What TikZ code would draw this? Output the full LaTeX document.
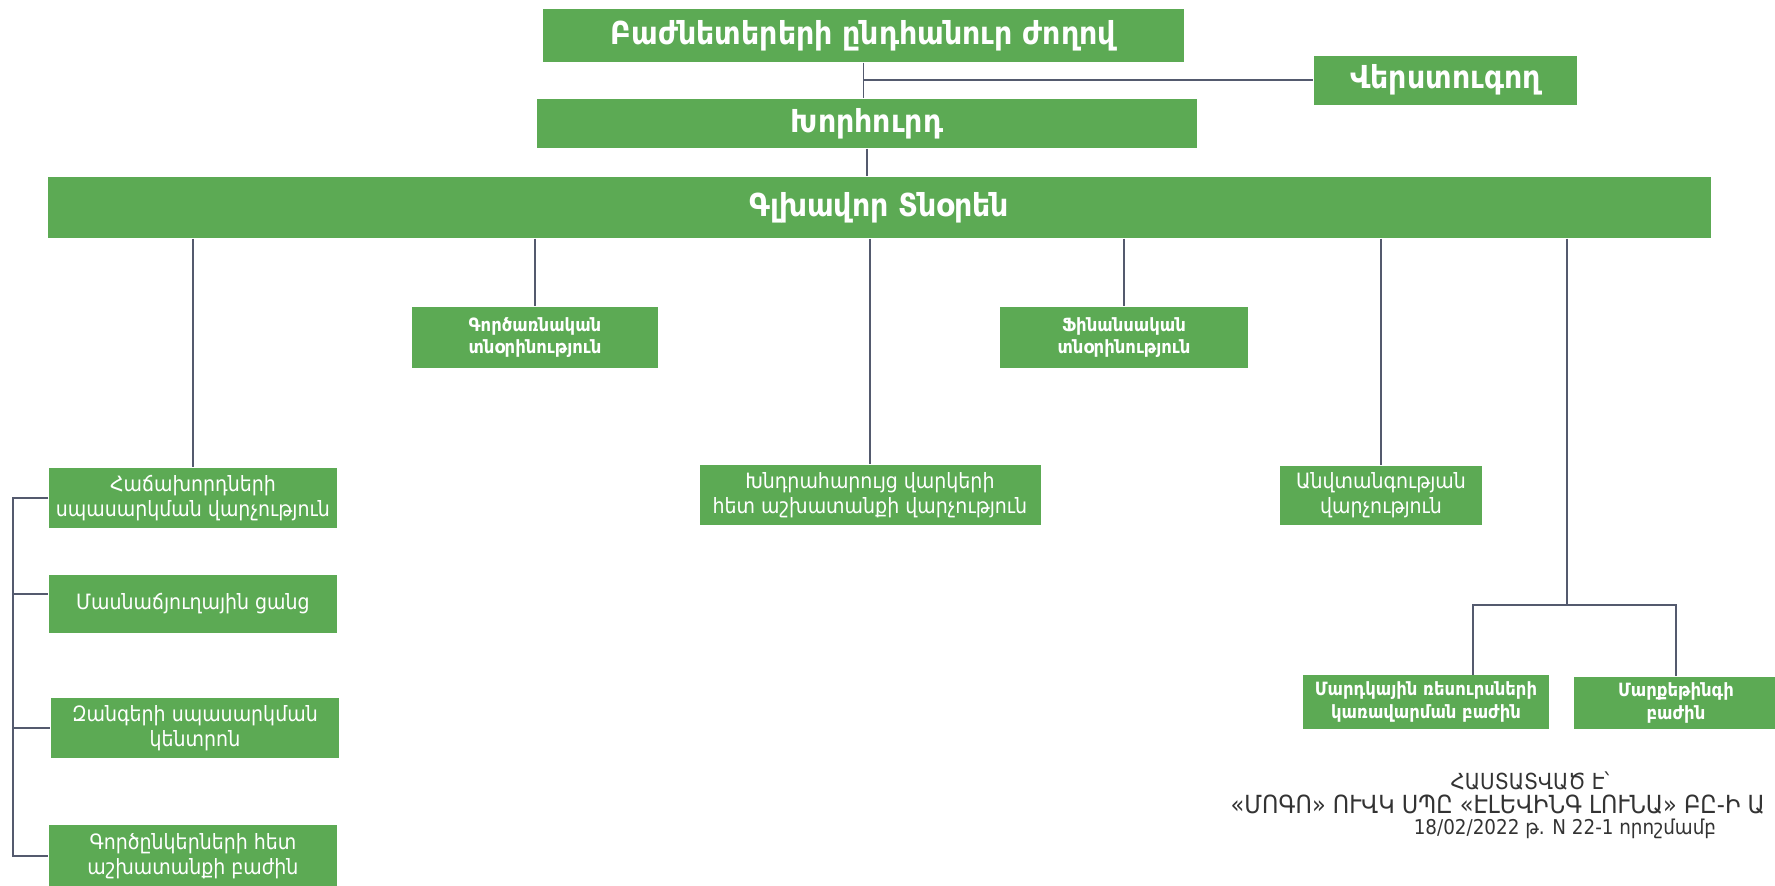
\documentclass[tikz,border=0pt]{standalone}
\usepackage{fontspec}
\setmainfont{DejaVu Sans Condensed}
\definecolor{boxgreen}{RGB}{92,170,84}
\definecolor{linkgray}{RGB}{84,90,110}
\tikzset{
unit/.style={fill=boxgreen,text=white,align=center,inner sep=0pt,font=\fontsize{6}{7.2}\selectfont},
bigunit/.style={unit,font=\fontsize{9}{11}\selectfont\bfseries},
smallunit/.style={unit,font=\fontsize{5.2}{6.4}\selectfont\bfseries},
link/.style={draw=linkgray,line width=.5pt},
note/.style={text=black!80,inner sep=0pt}
}
\begin{document}
\begin{tikzpicture}
\useasboundingbox (0,0) rectangle (17.75,-8.85);
\node[bigunit,minimum width=6.41cm,minimum height=.53cm](bod) at (8.635,-.355){Բաժնետերերի ընդհանուր ժողով};
\node[bigunit,minimum width=2.63cm,minimum height=.49cm](audit) at (14.455,-.8){Վերստուգող};
\node[bigunit,minimum width=6.6cm,minimum height=.49cm](board) at (8.67,-1.235){Խորհուրդ};
\node[bigunit,minimum width=16.63cm,minimum height=.61cm](ceo) at (8.795,-2.075){Գլխավոր Տնօրեն};
\node[smallunit,minimum width=2.46cm,minimum height=.61cm](ops) at (5.35,-3.375){Գործառնական\\տնօրինություն};
\node[smallunit,minimum width=2.48cm,minimum height=.61cm](fin) at (11.24,-3.375){Ֆինանսական\\տնօրինություն};
\node[unit,minimum width=2.88cm,minimum height=.6cm](cust) at (1.93,-4.98){Հաճախորդների\\սպասարկման վարչություն};
\node[unit,minimum width=2.88cm,minimum height=.58cm](branch) at (1.93,-6.04){Մասնաճյուղային ցանց};
\node[unit,minimum width=2.88cm,minimum height=.6cm](call) at (1.95,-7.28){Զանգերի սպասարկման\\կենտրոն};
\node[unit,minimum width=2.88cm,minimum height=.62cm](partner) at (1.93,-8.56){Գործընկերների հետ\\աշխատանքի բաժին};
\node[unit,minimum width=3.41cm,minimum height=.6cm](bad) at (8.7,-4.95){Խնդրահարույց վարկերի\\հետ աշխատանքի վարչություն};
\node[unit,minimum width=2.02cm,minimum height=.59cm](sec) at (13.81,-4.955){Անվտանգության\\վարչություն};
\node[smallunit,minimum width=2.46cm,minimum height=.54cm](hr) at (14.26,-7.02){Մարդկային ռեսուրսների\\կառավարման բաժին};
\node[smallunit,minimum width=2.04cm,minimum height=.52cm](mkt) at (16.76,-7.03){Մարքեթինգի\\բաժին};
\coordinate (rail) at (.13,0);
\coordinate (split) at (15.67,-6.05);
\coordinate (hrtop) at (14.73,-6.75);
\draw[link](bod.south) -- (bod.south |- board.north);
\draw[link](bod.south |- audit.west) -- (audit.west);
\draw[link](board.south) -- (board.south |- ceo.north);
\draw[link](ceo.south -| cust.north) -- (cust.north);
\draw[link](ceo.south -| ops.north) -- (ops.north);
\draw[link](ceo.south -| bad.north) -- (bad.north);
\draw[link](ceo.south -| fin.north) -- (fin.north);
\draw[link](ceo.south -| sec.north) -- (sec.north);
\draw[link](ceo.south -| split) -- (split);
\draw[link](hrtop) |- (split) -| (mkt.north);
\draw[link](cust.west) -- (cust.west -| rail) -- (partner.west -| rail) -- (partner.west);
\draw[link]([yshift=.1cm]branch.west -| rail) -- ([yshift=.1cm]branch.west);
\draw[link](call.west -| rail) -- (call.west);
\node[note,font=\fontsize{6.3}{7}\selectfont](ok) at (15.3,-7.81){ՀԱՍՏԱՏՎԱԾ Է՝};
\node[note,anchor=west,font=\fontsize{7.1}{8}\selectfont](firm) at (12.3,-8.05){«ՄՈԳՈ» ՈՒՎԿ ՍՊԸ «ԷԼԵՎԻՆԳ ԼՈՒՆԱ» ԲԸ-Ի Ա};
\node[note,font=\fontsize{5.8}{6.5}\selectfont](date) at (15.65,-8.29){18/02/2022 թ. N 22-1 որոշմամբ};
\end{tikzpicture}
\end{document}
